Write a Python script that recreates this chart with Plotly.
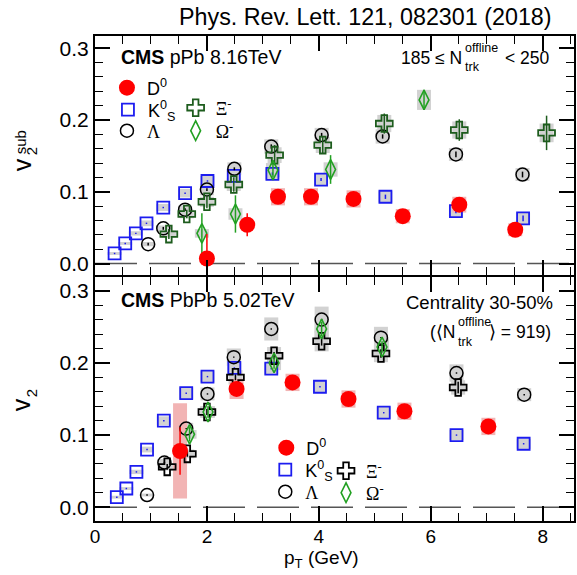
import plotly.graph_objects as go

# ---------------- data: pPb 8.16 TeV (top panel) ----------------
pt_d0_ppb = [2.00, 2.72, 3.27, 3.86, 4.62, 5.50, 6.51, 7.51]
v2_d0_ppb = [0.007, 0.054, 0.093, 0.093, 0.090, 0.066, 0.082, 0.047]
st_d0_ppb = [0.034, 0.016, 0.007, 0.006, 0.006, 0.006, 0.007, 0.006]
sy_d0_ppb = [0.006, 0.006, 0.012, 0.012, 0.012, 0.010, 0.011, 0.009]

pt_ks_ppb = [0.35, 0.54, 0.73, 0.92, 1.22, 1.61, 2.01, 2.48, 3.17, 4.04, 5.19, 6.45, 7.65]
v2_ks_ppb = [0.014, 0.028, 0.042, 0.056, 0.078, 0.098, 0.115, 0.122, 0.125, 0.117, 0.093, 0.073, 0.063]
st_ks_ppb = [0.001, 0.001, 0.001, 0.001, 0.001, 0.001, 0.001, 0.002, 0.002, 0.002, 0.003, 0.003, 0.004]
sy_ks_ppb = [0.002, 0.002, 0.003, 0.004, 0.005, 0.006, 0.007, 0.008, 0.008, 0.008, 0.008, 0.008, 0.008]

pt_la_ppb = [0.95, 1.22, 1.61, 2.00, 2.49, 3.15, 4.05, 5.14, 6.45, 7.64]
v2_la_ppb = [0.027, 0.049, 0.075, 0.103, 0.132, 0.163, 0.179, 0.177, 0.152, 0.124]
st_la_ppb = [0.002, 0.002, 0.002, 0.002, 0.002, 0.003, 0.003, 0.003, 0.004, 0.004]
sy_la_ppb = [0.003, 0.004, 0.006, 0.008, 0.009, 0.010, 0.010, 0.010, 0.009, 0.009]

pt_xi_ppb = [1.32, 1.64, 2.00, 2.48, 3.21, 4.07, 5.17, 6.51, 8.07]
v2_xi_ppb = [0.041, 0.069, 0.086, 0.110, 0.151, 0.165, 0.195, 0.186, 0.182]
st_xi_ppb = [0.007, 0.006, 0.009, 0.010, 0.014, 0.012, 0.014, 0.015, 0.024]
sy_xi_ppb = [0.005, 0.006, 0.007, 0.009, 0.011, 0.011, 0.012, 0.012, 0.013]

pt_om_ppb = [1.91, 2.51, 3.18, 4.21, 5.88]
v2_om_ppb = [0.042, 0.069, 0.130, 0.131, 0.228]
st_om_ppb = [0.028, 0.026, 0.010, 0.020, 0.014]
sy_om_ppb = [0.006, 0.008, 0.010, 0.010, 0.014]

# ---------------- data: PbPb 5.02 TeV (bottom panel) ----------------
pt_d0_pbpb = [1.52, 2.53, 3.53, 4.53, 5.53, 7.03]
v2_d0_pbpb = [0.078, 0.164, 0.173, 0.150, 0.133, 0.112]
st_d0_pbpb = [0.033, 0.006, 0.006, 0.006, 0.006, 0.007]
sy_d0_pbpb = [0.066, 0.014, 0.012, 0.012, 0.012, 0.012]

pt_ks_pbpb = [0.39, 0.56, 0.74, 0.93, 1.23, 1.63, 2.01, 2.49, 3.15, 4.02, 5.16, 6.46, 7.66]
v2_ks_pbpb = [0.014, 0.026, 0.049, 0.080, 0.120, 0.158, 0.181, 0.193, 0.192, 0.167, 0.131, 0.100, 0.088]
st_ks_pbpb = [0.001] * 13
sy_ks_pbpb = [0.002, 0.002, 0.003, 0.004, 0.006, 0.008, 0.008, 0.008, 0.008, 0.008, 0.008, 0.007, 0.007]

pt_la_pbpb = [0.93, 1.24, 1.63, 2.01, 2.48, 3.15, 4.05, 5.11, 6.46, 7.67]
v2_la_pbpb = [0.017, 0.062, 0.109, 0.157, 0.208, 0.247, 0.260, 0.235, 0.186, 0.156]
st_la_pbpb = [0.001] * 10
sy_la_pbpb = [0.002, 0.005, 0.008, 0.009, 0.012, 0.016, 0.018, 0.015, 0.012, 0.009]

pt_xi_pbpb = [1.29, 1.65, 2.00, 2.51, 3.20, 4.05, 5.11, 6.49]
v2_xi_pbpb = [0.056, 0.074, 0.132, 0.180, 0.210, 0.230, 0.213, 0.166]
st_xi_pbpb = [0.004, 0.004, 0.004, 0.004, 0.005, 0.006, 0.006, 0.008]
sy_xi_pbpb = [0.005, 0.006, 0.008, 0.010, 0.012, 0.014, 0.012, 0.010]

pt_om_pbpb = [1.69, 2.02, 3.20, 4.05, 5.13]
v2_om_pbpb = [0.101, 0.132, 0.200, 0.247, 0.222]
st_om_pbpb = [0.010, 0.008, 0.008, 0.010, 0.008]
sy_om_pbpb = [0.006, 0.008, 0.010, 0.012, 0.012]

x_ticks = [0, 2, 4, 6, 8]
y_ticks = [0.0, 0.1, 0.2, 0.3]

# ---------------- geometry ----------------
W, H = 577, 575
L, R, T, B = 95, 1, 36, 54
PW, PH = W - L - R, H - T - B


def px(x):
    return (x - L) / PW


def py(y):
    return (H - B - y) / PH


SANS = "Liberation Sans, Arial, sans-serif"
SERIF = "Liberation Serif, Times New Roman, serif"
RED = "#ff0000"
BLUE = "#1c1cf0"
BLACK = "#000000"
DGREEN = "#1d5c1d"
GREEN = "#22a022"
GRAY = "#d2d2d2"
PINK = "#f2b4b4"

fig = go.Figure()


def boxes(x, y, s, color, xa, ya):
    fig.add_trace(go.Bar(
        x=x, y=[2 * v for v in s], base=[a - b for a, b in zip(y, s)],
        width=0.25, marker=dict(color=color, line=dict(width=0)),
        xaxis=xa, yaxis=ya, showlegend=False, hoverinfo="skip"))


def points(x, y, e, name, marker, ecolor, xa, ya, legend):
    fig.add_trace(go.Scatter(
        x=x, y=y, mode="markers", name=name, marker=marker,
        error_y=dict(type="data", array=e, color=ecolor, thickness=1.5, width=0),
        xaxis=xa, yaxis=ya, legend=legend, showlegend=True, hoverinfo="skip"))


def mk(sym, size, color, lw=1.6):
    return dict(symbol=sym, size=size, color=color, line=dict(color=color, width=lw))


# systematic boxes
for xa, ya, sets in [
    ("x2", "y2", [(pt_ks_ppb, v2_ks_ppb, sy_ks_ppb, GRAY), (pt_la_ppb, v2_la_ppb, sy_la_ppb, GRAY),
                  (pt_xi_ppb, v2_xi_ppb, sy_xi_ppb, GRAY), (pt_om_ppb, v2_om_ppb, sy_om_ppb, GRAY),
                  (pt_d0_ppb, v2_d0_ppb, sy_d0_ppb, PINK)]),
    ("x", "y", [(pt_ks_pbpb, v2_ks_pbpb, sy_ks_pbpb, GRAY), (pt_la_pbpb, v2_la_pbpb, sy_la_pbpb, GRAY),
                (pt_xi_pbpb, v2_xi_pbpb, sy_xi_pbpb, GRAY), (pt_om_pbpb, v2_om_pbpb, sy_om_pbpb, GRAY),
                (pt_d0_pbpb, v2_d0_pbpb, sy_d0_pbpb, PINK)]),
]:
    for xs, ys, ss, c in sets:
        boxes(xs, ys, ss, c, xa, ya)

# top panel points
points(pt_ks_ppb, v2_ks_ppb, st_ks_ppb, "K<sup>0</sup><sub>S</sub>", mk("square-open", 12, BLUE, 1.8), BLUE, "x2", "y2", "legend2")
points(pt_la_ppb, v2_la_ppb, st_la_ppb, "Λ", mk("circle-open", 13, BLACK, 1.5), BLACK, "x2", "y2", "legend3")
points(pt_xi_ppb, v2_xi_ppb, st_xi_ppb, "Ξ<sup>-</sup>", mk("cross-open", 14, DGREEN, 1.8), DGREEN, "x2", "y2", "legend4")
points(pt_om_ppb, v2_om_ppb, st_om_ppb, "Ω<sup>-</sup>", mk("diamond-tall-open", 14, GREEN, 1.6), GREEN, "x2", "y2", "legend5")
points(pt_d0_ppb, v2_d0_ppb, st_d0_ppb, "D<sup>0</sup>", mk("circle", 16, RED, 0), RED, "x2", "y2", "legend")

# bottom panel points
points(pt_ks_pbpb, v2_ks_pbpb, st_ks_pbpb, "K<sup>0</sup><sub>S</sub>", mk("square-open", 12, BLUE, 1.8), BLUE, "x", "y", "legend7")
points(pt_la_pbpb, v2_la_pbpb, st_la_pbpb, "Λ", mk("circle-open", 13, BLACK, 1.5), BLACK, "x", "y", "legend8")
points(pt_xi_pbpb, v2_xi_pbpb, st_xi_pbpb, "Ξ<sup>-</sup>", mk("cross-open", 14, BLACK, 1.8), BLACK, "x", "y", "legend9")
points(pt_om_pbpb, v2_om_pbpb, st_om_pbpb, "Ω<sup>-</sup>", mk("diamond-tall-open", 14, GREEN, 1.6), GREEN, "x", "y", "legend10")
points(pt_d0_pbpb, v2_d0_pbpb, st_d0_pbpb, "D<sup>0</sup>", mk("circle", 16, RED, 0), RED, "x", "y", "legend6")

# ---------------- axes ----------------
common_x = dict(range=[0, 8.56], tickvals=x_ticks, ticks="inside", ticklen=15, tickwidth=1.5,
                tickcolor="black", showline=True, linecolor="black", linewidth=2, mirror="allticks",
                showgrid=False, zeroline=False, ticklabelstandoff=-3,
                minor=dict(dtick=0.5, ticks="inside", ticklen=8, tickwidth=1.2, tickcolor="black", showgrid=False),
                tickfont=dict(family=SANS, size=19, color="black"))
common_y = dict(tickvals=y_ticks, tickformat=".1f", ticks="inside", ticklen=15, tickwidth=1.5,
                tickcolor="black", showline=True, linecolor="black", linewidth=2, mirror="allticks",
                showgrid=False, zeroline=False,
                minor=dict(dtick=0.02, ticks="inside", ticklen=8, tickwidth=1.2, tickcolor="black", showgrid=False),
                tickfont=dict(family=SANS, size=21, color="black"))

split = 244 / PH
gap = 2 / PH
fig.update_layout(
    xaxis=dict(domain=[0, 1], anchor="y", **common_x),
    xaxis2=dict(domain=[0, 1], anchor="y2", matches="x", showticklabels=False, **common_x),
    yaxis=dict(domain=[0, split], anchor="x", range=[-0.019, 0.319], **common_y),
    yaxis2=dict(domain=[split + gap, 1], anchor="x2", range=[-0.016, 0.317], **common_y),
)

# zero reference dashed lines
for xr, yr in [("x domain", "y"), ("x2 domain", "y2")]:
    fig.add_shape(type="line", xref=xr, yref=yr, x0=0, x1=1, y0=0, y1=0,
                  line=dict(color="#555555", width=1.5, dash="42px,12px"), layer="below")

# ---------------- legends (one entry each, placed like the original) ----------------
leg_pos = {
    "legend": (127, 88, SANS), "legend2": (128, 110, SANS), "legend3": (127, 131, SERIF),
    "legend4": (196, 108, SERIF), "legend5": (196, 131, SERIF),
    "legend6": (287, 448, SANS), "legend7": (286, 470, SANS), "legend8": (286, 492, SERIF),
    "legend9": (347, 471, SERIF), "legend10": (347, 493, SERIF),
}
for k, (xc, yc, fam) in leg_pos.items():
    fig.layout[k] = dict(x=px(xc - 20), y=py(yc), xanchor="left", yanchor="middle",
                         bgcolor="rgba(0,0,0,0)", borderwidth=0,
                         font=dict(family=fam, size=18, color="black"))

# ---------------- text ----------------
ann = []


def text(s, x, y, size, xanchor="left", family=SANS, angle=0):
    ann.append(dict(text=s, x=px(x), y=py(y), xref="paper", yref="paper", showarrow=False,
                    xanchor=xanchor, yanchor="middle", textangle=angle,
                    font=dict(family=family, size=size, color="black")))


text("Phys. Rev. Lett. 121, 082301 (2018)", 367, 17, 23.3, "center")
text("<b>CMS</b> pPb 8.16TeV", 119, 57, 19.5)
text("<b>CMS</b> PbPb 5.02TeV", 119, 300, 19.5)
text("185 ≤ N", 466, 58, 17.5, "right")
text("offline", 465, 48, 12.5)
text("trk", 465, 67, 12.5)
text("< 250", 505, 58, 17.5)
text("Centrality 30-50%", 557, 302, 18.5, "right")
text("(⟨N", 459, 332, 17.5, "right")
text("offline", 458, 322, 12.5)
text("trk", 458, 342, 12.5)
text("⟩ = 919)", 555, 332, 17.5, "right")
text("p<sub>T</sub> (GeV)", 322, 559, 19, "center")
# y titles (stacked super/subscripts)
text("v", 22, 165, 25, "center", angle=-90)
text("2", 31, 151, 15, "center", angle=-90)
text("sub", 20, 142, 15, "center", angle=-90)
text("v", 21, 405, 25, "center", angle=-90)
text("2", 31, 393, 15, "center", angle=-90)

fig.update_layout(
    width=W, height=H, margin=dict(l=L, r=R, t=T, b=B, pad=0),
    paper_bgcolor="white", plot_bgcolor="white", barmode="overlay",
    font=dict(family=SANS, color="black"), annotations=ann,
)

fig.write_html("out.html")
